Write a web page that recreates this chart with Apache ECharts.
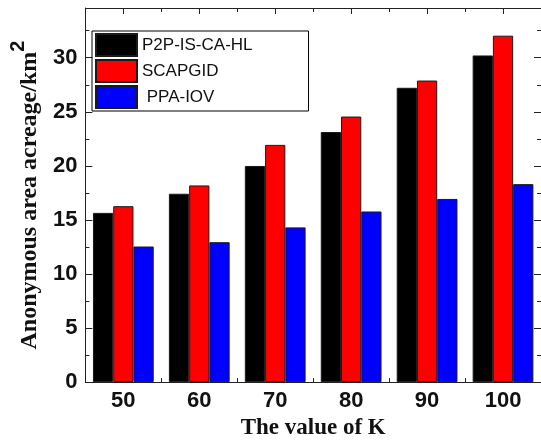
<!DOCTYPE html>
<html>
<head>
<meta charset="utf-8">
<script src="https://cdn.jsdelivr.net/npm/echarts@6/dist/echarts.min.js"></script>
<style>
  html, body { margin: 0; padding: 0; background: #fff; }
  #chart { width: 541px; height: 445px; }
</style>
</head>
<body>
<div id="chart"></div>
<script>
// values of K
const categories = ['50', '60', '70', '80', '90', '100']
// anonymous area acreage (km^2) per method
const p2pValues = [15.65, 17.42, 19.99, 23.13, 27.22, 30.21]
const scapgidValues = [16.27, 18.19, 21.94, 24.56, 27.89, 32.04]
const ppaValues = [12.54, 12.94, 14.31, 15.78, 16.94, 18.31]
const seriesNames = ['P2P-IS-CA-HL', 'SCAPGID', ' PPA-IOV']
const seriesColors = ['#000000', '#ff0000', '#0000ff']

const myChart = echarts.init(document.getElementById('chart'))

const sansFont = '"Liberation Sans", Arial, sans-serif'
const serifFont = '"Liberation Serif", "Times New Roman", serif'
const frameColor = '#222'

// y axis shared scale
const yScale = { type: 'value', min: 0, max: 34.6, interval: 5 }

function xAxisPart(position, major) {
  return {
    type: 'category',
    data: categories,
    position: position,
    axisLine: { show: major, lineStyle: { color: frameColor, width: 1 } },
    axisTick: {
      show: true,
      inside: true,
      alignWithLabel: major,
      length: major ? 6 : 4,
      lineStyle: { color: frameColor }
    },
    axisLabel: {
      show: major && position === 'bottom',
      margin: 8,
      color: '#111',
      fontFamily: sansFont,
      fontWeight: 'bold',
      fontSize: 22
    },
    splitLine: { show: false }
  }
}

const xBottom = xAxisPart('bottom', true)
xBottom.name = 'The value of K'
xBottom.nameLocation = 'middle'
xBottom.nameGap = 33
xBottom.nameTextStyle = { fontFamily: serifFont, fontWeight: 'bold', fontSize: 23, color: '#111' }

const option = {
  animation: false,
  grid: { left: 80, right: -1, top: 8, bottom: 59 },
  legend: {
    orient: 'vertical',
    left: 92,
    top: 31,
    data: seriesNames,
    icon: 'rect',
    itemWidth: 41,
    itemHeight: 22,
    itemGap: 2,
    padding: [2, 56, 2, 3],
    borderColor: '#000',
    borderWidth: 1,
    borderRadius: 0,
    textStyle: { fontFamily: sansFont, fontSize: 17, color: '#111' }
  },
  xAxis: [
    xBottom,
    xAxisPart('bottom', false),
    xAxisPart('top', true),
    xAxisPart('top', false)
  ],
  yAxis: [
    Object.assign({}, yScale, {
      position: 'left',
      name: '{a|Anonymous area acreage/km}{b|2}',
      nameLocation: 'middle',
      nameGap: 32,
      nameTextStyle: {
        rich: {
          a: { fontFamily: serifFont, fontWeight: 'bold', fontSize: 24, color: '#111', lineHeight: 34, verticalAlign: 'bottom' },
          b: { fontFamily: sansFont, fontWeight: 'bold', fontSize: 20, color: '#111', lineHeight: 34, verticalAlign: 'top' }
        }
      },
      axisLine: { show: true, lineStyle: { color: frameColor, width: 1 } },
      axisTick: { show: true, inside: true, length: 7, lineStyle: { color: frameColor } },
      minorTick: { show: true, splitNumber: 2, length: 4, lineStyle: { color: frameColor } },
      axisLabel: {
        margin: 8,
        color: '#111',
        fontFamily: sansFont,
        fontWeight: 'bold',
        fontSize: 22,
        formatter: function (v) { return v % 5 === 0 ? String(v) : '' }
      },
      splitLine: { show: false },
      minorSplitLine: { show: false }
    }),
    Object.assign({}, yScale, {
      position: 'right',
      axisLine: { show: true, lineStyle: { color: frameColor, width: 1 } },
      axisTick: { show: true, inside: true, length: 7, lineStyle: { color: frameColor } },
      minorTick: { show: true, splitNumber: 2, length: 4, lineStyle: { color: frameColor } },
      axisLabel: { show: false },
      splitLine: { show: false }
    })
  ],
  series: [p2pValues, scapgidValues, ppaValues].map(function (values, i) {
    return {
      name: seriesNames[i],
      type: 'bar',
      xAxisIndex: 0,
      yAxisIndex: 0,
      barGap: '0%',
      barCategoryGap: '20%',
      itemStyle: { color: seriesColors[i], borderColor: '#1a1a1a', borderWidth: 1 },
      data: values
    }
  })
}

myChart.setOption(option)
</script>
</body>
</html>
